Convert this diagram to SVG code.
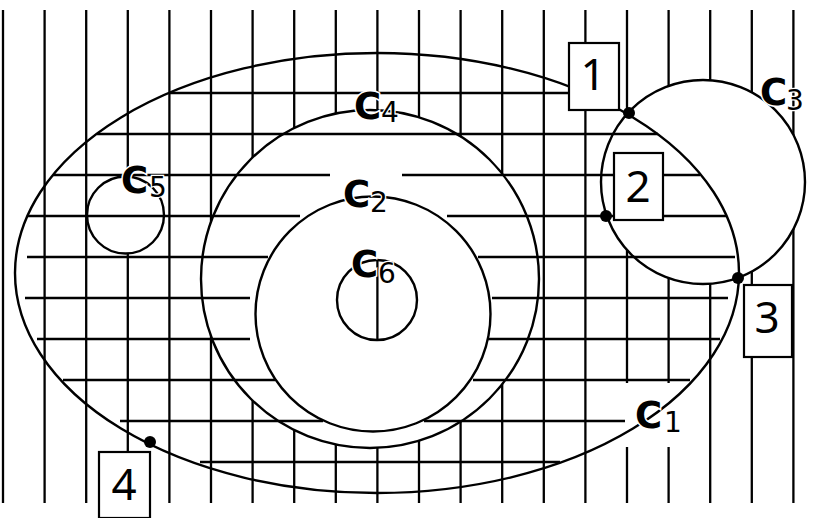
<svg xmlns="http://www.w3.org/2000/svg" width="829" height="518" viewBox="0 0 829 518">
<style>
.h line, .v line { stroke:#000; stroke-width:2.3; }
.o { fill:none; stroke:#000; stroke-width:2.4; }
.box { fill:#fff; stroke:#000; stroke-width:2.2; }
.num { font-family:"Noto Sans","DejaVu Sans",sans-serif; font-size:44px; fill:#000; text-anchor:middle; }
.lc { font-family:"DejaVu Sans",sans-serif; font-weight:bold; font-size:37px; fill:#000; stroke:#fff; stroke-width:3; paint-order:stroke; }
.ls { font-family:"DejaVu Sans",sans-serif; font-size:28px; fill:#000; stroke:#fff; stroke-width:2.5; paint-order:stroke; }
.dot { fill:#000; }
</style>
<defs>
<mask id="mv" maskUnits="userSpaceOnUse" x="0" y="0" width="829" height="518">
<rect width="829" height="518" fill="#fff"/>
<circle cx="703" cy="182" r="102" fill="#000"/>
<circle cx="370" cy="279" r="169" fill="#000"/>
<circle cx="125.5" cy="215" r="38.5" fill="#000"/>
<circle cx="377" cy="300" r="40" fill="#fff"/>
<rect x="624" y="383" width="78" height="64" fill="#000"/>
</mask>
</defs>
<rect width="829" height="518" fill="#fff"/>
<g id="connectors">
<g class="v" mask="url(#mv)">
<line x1="3" y1="10" x2="3" y2="503"/>
<line x1="44.6" y1="10" x2="44.6" y2="503"/>
<line x1="86.2" y1="10" x2="86.2" y2="503"/>
<line x1="127.8" y1="10" x2="127.8" y2="503"/>
<line x1="169.4" y1="10" x2="169.4" y2="503"/>
<line x1="211" y1="10" x2="211" y2="503"/>
<line x1="252.6" y1="10" x2="252.6" y2="503"/>
<line x1="294.2" y1="10" x2="294.2" y2="503"/>
<line x1="335.8" y1="10" x2="335.8" y2="503"/>
<line x1="377.4" y1="10" x2="377.4" y2="503"/>
<line x1="419" y1="10" x2="419" y2="503"/>
<line x1="460.6" y1="10" x2="460.6" y2="503"/>
<line x1="502.2" y1="10" x2="502.2" y2="503"/>
<line x1="543.8" y1="10" x2="543.8" y2="503"/>
<line x1="585.4" y1="10" x2="585.4" y2="503"/>
<line x1="627" y1="10" x2="627" y2="503"/>
<line x1="668.6" y1="10" x2="668.6" y2="503"/>
<line x1="710.2" y1="10" x2="710.2" y2="503"/>
<line x1="751.8" y1="10" x2="751.8" y2="503"/>
<line x1="793.4" y1="10" x2="793.4" y2="503"/>
</g>
<g class="h">
<line x1="169" y1="93" x2="587" y2="93"/>
<line x1="97" y1="134" x2="658" y2="134"/>
<line x1="53" y1="175" x2="330" y2="175"/>
<line x1="402" y1="175" x2="700" y2="175"/>
<line x1="27" y1="216" x2="300" y2="216"/>
<line x1="447" y1="216" x2="726" y2="216"/>
<line x1="27" y1="257" x2="268" y2="257"/>
<line x1="478" y1="257" x2="735" y2="257"/>
<line x1="25" y1="298" x2="250" y2="298"/>
<line x1="492" y1="298" x2="728" y2="298"/>
<line x1="37" y1="339" x2="250" y2="339"/>
<line x1="488" y1="339" x2="720" y2="339"/>
<line x1="63" y1="380" x2="275" y2="380"/>
<line x1="473" y1="380" x2="690" y2="380"/>
<line x1="120" y1="421" x2="323" y2="421"/>
<line x1="424" y1="421" x2="625" y2="421"/>
<line x1="200" y1="462" x2="560" y2="462"/>
</g>
</g>
<g id="C1"><ellipse class="o" cx="377" cy="273" rx="362" ry="220"/></g>
<g id="C4"><circle class="o" cx="370" cy="279" r="169"/></g>
<g id="C2"><circle class="o" cx="373" cy="314" r="117.5"/></g>
<g id="C6"><circle class="o" cx="377" cy="300" r="40"/></g>
<g id="C5"><circle class="o" cx="125.5" cy="215" r="38.5"/></g>
<g id="C3"><circle class="o" cx="703" cy="182" r="102"/></g>
<g id="box1"><rect class="box" x="569" y="43" width="50" height="67"/><text class="num" x="593" y="90">1</text></g>
<g id="box2"><rect class="box" x="614" y="153" width="49" height="67"/><text class="num" x="638" y="202">2</text></g>
<g id="box3"><rect class="box" x="744" y="285" width="48" height="72"/><text class="num" x="767" y="333">3</text></g>
<g id="box4"><rect class="box" x="99" y="452" width="51" height="66"/><text class="num" x="124" y="500">4</text></g>
<g id="points">
<circle class="dot" cx="629" cy="113" r="6"/>
<circle class="dot" cx="606" cy="216" r="6"/>
<circle class="dot" cx="738" cy="278" r="6"/>
<circle class="dot" cx="150" cy="442" r="6"/>
</g>
<g id="labels">
<text class="lc" x="354" y="119">C</text><text class="ls" x="381" y="122">4</text>
<text class="lc" x="343" y="207">C</text><text class="ls" x="370" y="212">2</text>
<text class="lc" x="351" y="277">C</text><text class="ls" x="378" y="283">6</text>
<text class="lc" x="121" y="193">C</text><text class="ls" x="149" y="197">5</text>
<text class="lc" x="760" y="105">C</text><text class="ls" x="786" y="110">3</text>
<text class="lc" x="635" y="428">C</text><text class="ls" x="664" y="432">1</text>
</g>
</svg>
